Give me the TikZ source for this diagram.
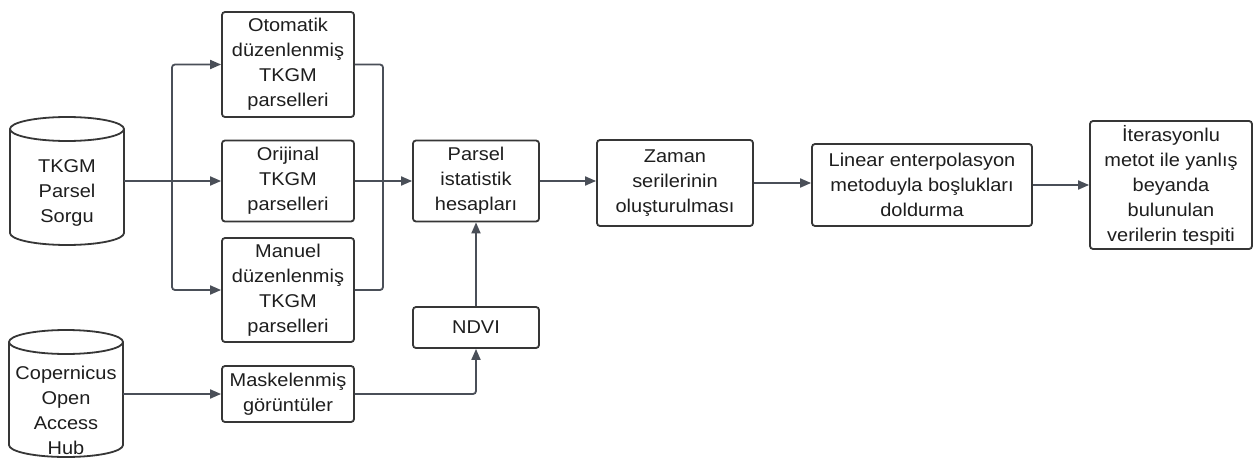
\documentclass[tikz,border=0pt]{standalone}
\usepackage{fontspec}
\setmainfont[FakeStretch=1.08]{Liberation Sans}
\usetikzlibrary{arrows.meta}
\definecolor{ln}{HTML}{4A4F58}
\definecolor{bx}{HTML}{363636}
\definecolor{tx}{HTML}{1E1E1E}
\newcommand\mycyl[4]{%
  \pgfmathsetmacro\cx{(#1+#2)/2}\pgfmathsetmacro\rx{(#2-#1)/2}%
  \draw[cylst] (#1,#3+12) -- (#1,#4-12) arc[start angle=180,end angle=360,x radius=\rx pt,y radius=12pt] -- (#2,#3+12);
  \draw[cylst] (\cx,#3+12) ellipse[x radius=\rx pt, y radius=12pt];
}
\begin{document}
\begin{tikzpicture}[x=1pt,y=-1pt,
  txt/.style={align=center, text=tx, font=\fontsize{18.5}{25}\selectfont, inner sep=0pt},
  box/.style={txt, draw=bx, line width=1.8pt, rounded corners=3pt, fill=white},
  cylst/.style={draw=bx, line width=1.8pt, fill=white},
  conn/.style={draw=ln, line width=1.8pt, rounded corners=3pt},
  arr/.style={conn, -{Triangle[length=11pt,width=9pt]}}]
\path[fill=white] (0,0) rectangle (1253,458);
\useasboundingbox (0,0) rectangle (1253,458);

% cylinders
\mycyl{10}{124}{117}{245}
\node[minimum width=114pt, minimum height=128pt, inner sep=0pt] (db1) at (67,181) {};
\node[txt] (db1t) at (67,193) {TKGM\\Parsel\\Sorgu};
\mycyl{9}{123}{330}{457}
\node[minimum width=114pt, minimum height=127pt, inner sep=0pt] (db2) at (66,394) {};
\node[txt] (db2t) at (66,410) {Copernicus\\Open\\Access\\Hub};

% boxes
\node[box, minimum width=132pt, minimum height=105pt] (otom) at (288,64.5) {Otomatik\\düzenlenmiş\\TKGM\\parselleri};
\node[box, minimum width=132pt, minimum height=81pt] (orij) at (288,181) {Orijinal\\TKGM\\parselleri};
\node[box, minimum width=132pt, minimum height=104pt] (man) at (288,290) {Manuel\\düzenlenmiş\\TKGM\\parselleri};
\node[box, minimum width=132pt, minimum height=56pt] (mask) at (288,394) {Maskelenmiş\\görüntüler};
\node[box, minimum width=126pt, minimum height=81pt] (pars) at (476,181) {Parsel\\istatistik\\hesapları};
\node[box, minimum width=126pt, minimum height=41pt] (ndvi) at (476,327.5) {NDVI};
\node[box, minimum width=156pt, minimum height=86pt] (zam) at (675,183) {Zaman\\serilerinin\\oluşturulması};
\node[box, minimum width=220pt, minimum height=82pt] (lin) at (922,185) {Linear enterpolasyon\\metoduyla boşlukları\\doldurma};
\node[box, minimum width=162pt, minimum height=128pt] (iter) at (1171,185) {İterasyonlu\\metot ile yanlış\\beyanda\\bulunulan\\verilerin tespiti};

% connectors
\coordinate (sp) at (172,181);
\coordinate (mg) at (383,181);
\draw[arr] (db1.east) -- (orij.west);
\draw[arr] (sp) |- (otom.west);
\draw[arr] (sp) |- (man.west);
\draw[conn] (otom.east) -| (mg);
\draw[conn] (man.east) -| (mg);
\draw[arr] (orij.east) -- (pars.west);
\draw[arr] (db2.east) -- (mask.west);
\draw[arr] (mask.east) -| (ndvi.south);
\draw[arr] (ndvi.north) -- (pars.south);
\draw[arr] (pars.east) -- (pars.east -| zam.west);
\draw[arr] (zam.east) -- (zam.east -| lin.west);
\draw[arr] (lin.east) -- (lin.east -| iter.west);
\end{tikzpicture}
\end{document}
